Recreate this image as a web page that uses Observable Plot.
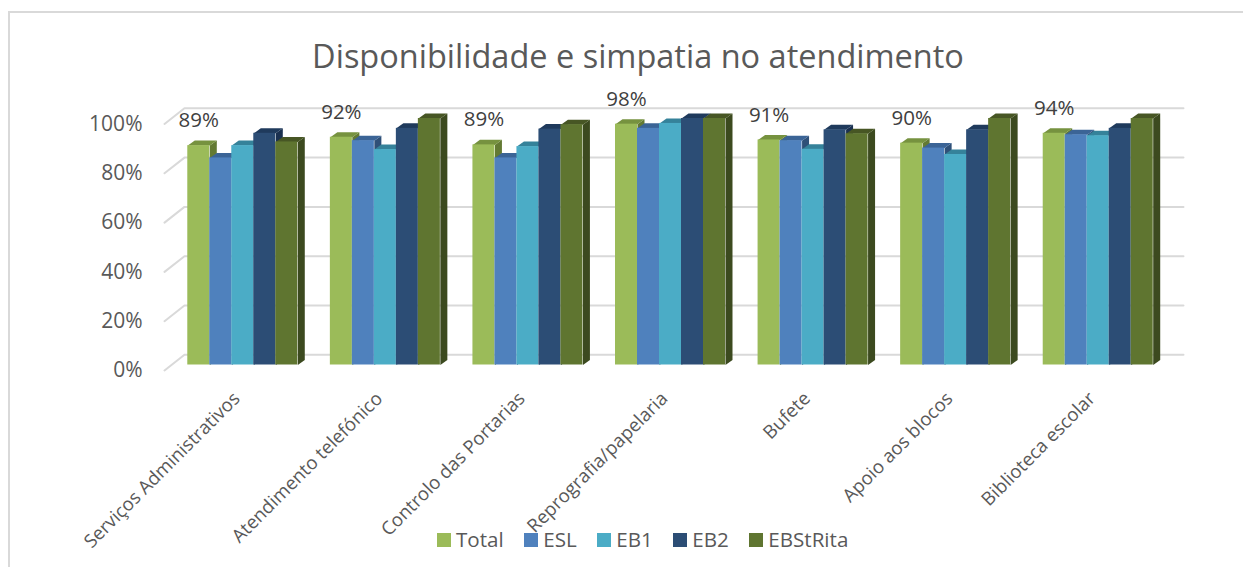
<!DOCTYPE html>
<html><head><meta charset="utf-8">
<script src="https://cdn.jsdelivr.net/npm/d3@7"></script>
<script src="https://cdn.jsdelivr.net/npm/@observablehq/plot@0.6"></script>
<style>
html,body{margin:0;padding:0;background:#fff;overflow:hidden}
#wrap{position:relative;width:1243px;height:567px;font-family:"Open Sans",sans-serif;overflow:hidden}
#frame{position:absolute;left:8px;top:11px;width:1300px;height:700px;border-left:2px solid #d9d9d9;border-top:2px solid #d9d9d9}
#title{position:absolute;left:0;width:1276px;top:34px;text-align:center;font-size:32.5px;line-height:44px;color:#595959;white-space:nowrap}
#legend{position:absolute;left:437px;top:526px;display:flex;font-size:20.6px;line-height:27px;color:#595959;white-space:nowrap}
#legend .it{display:flex;align-items:center;margin-right:20.5px}
#legend i{display:block;width:14px;height:14px;margin-right:5px}
#wrap svg{position:absolute;left:0;top:0;overflow:visible}
</style></head><body>
<div id="wrap"><div id="frame"></div><div id="title">Disponibilidade e simpatia no atendimento</div><div id="legend"></div></div>
<script>
const categories = ["Serviços Administrativos","Atendimento telefónico","Controlo das Portarias","Reprografia/papelaria","Bufete","Apoio aos blocos","Biblioteca escolar"];
const seriesNames = ["Total","ESL","EB1","EB2","EBStRita"];
const total    = [89,92.4,89.3,97.7,91.3,90,94];
const esl      = [84,91,84,96,91,88,93.4];
const eb1      = [89,87.4,88.6,98,87.5,85.4,93];
const eb2      = [94,96,95.7,100,95.4,95.4,96];
const ebStRita = [90.5,100,97.5,100,93.8,100,100];
const frontColors = ["#9BBB59","#4F81BD","#4BACC6","#2C4D75","#5F7530"];
const topColors   = ["#76923F","#3B6496","#35829A","#1F3A5C","#475624"];
const sideColors  = ["#637A33","#2F5078","#2A6B80","#1A3050","#3C4A1F"];
const yTicks = [0,20,40,60,80,100];

const seriesValues = [total,esl,eb1,eb2,ebStRita];
// geometry in data units (category index along x, percent along y)
const barW = 0.1543, gap = (1 - 5*barW)/2, depthX = 0.0491, depthY = 2.03;

const fronts = [], faces = [];
categories.forEach((c,i) => seriesNames.forEach((s,j) => {
  const v = seriesValues[j][i], x1 = i + gap + j*barW, x2 = x1 + barW;
  fronts.push({x1,x2,v,fill:frontColors[j]});
  const id = i + "-" + j;
  [[x2,0],[x2+depthX,depthY],[x2+depthX,v+depthY],[x2,v]].forEach(p => faces.push({z:id+"s",x:p[0],y:p[1],fill:sideColors[j]}));
  [[x1,v],[x1+depthX,v+depthY],[x2+depthX,v+depthY],[x2,v]].forEach(p => faces.push({z:id+"t",x:p[0],y:p[1],fill:topColors[j]}));
}));
const grid = yTicks.flatMap(t => [
  {t,x:-0.049,y:t-2.23},{t,x:0.091,y:t+4.14},{t,x:7.098,y:t+4.14}
]);
const labels = total.map((v,i)=>({x:i+gap+barW/2,v}));

const chart = Plot.plot({
  width:1243,height:567,margin:0,marginLeft:146,marginBottom:189,
  style:{fontFamily:'"Open Sans",sans-serif',background:"transparent"},
  x:{domain:[0,7],range:[171,1169],axis:null},
  y:{domain:[0,100],range:[364.5,118],axis:null},
  marks:[
    Plot.line(grid,{x:"x",y:"y",z:"t",stroke:"#d9d9d9",strokeWidth:2}),
    Plot.line(faces,{x:"x",y:"y",z:"z",fill:"fill",stroke:"none",curve:"linear-closed"}),
    Plot.rectY(fronts,{x1:"x1",x2:"x2",y1:0,y2:"v",fill:"fill"}),
    Plot.text(labels,{x:"x",y:"v",text:d=>d3.format(".0f")(d.v)+"%",dy:-25,fontSize:20.5,fill:"#404040"}),
    Plot.axisY(yTicks,{anchor:"left",tickSize:0,tickPadding:4,tickFormat:d=>d+"%",dy:5.5,fontSize:21,fill:"#595959",label:null}),
    Plot.axisX(categories.map((c,i)=>i+0.5),{anchor:"bottom",tickSize:0,tickPadding:10,tickRotate:-45,dx:-6,dy:7,
      tickFormat:d=>categories[Math.floor(d)],fontSize:18.6,fill:"#595959",label:null})
  ]
});
document.getElementById("wrap").appendChild(chart);
document.getElementById("legend").innerHTML = seriesNames.map((s,j)=>`<div class="it"><i style="background:${frontColors[j]}"></i>${s}</div>`).join("");
</script>
</body></html>
